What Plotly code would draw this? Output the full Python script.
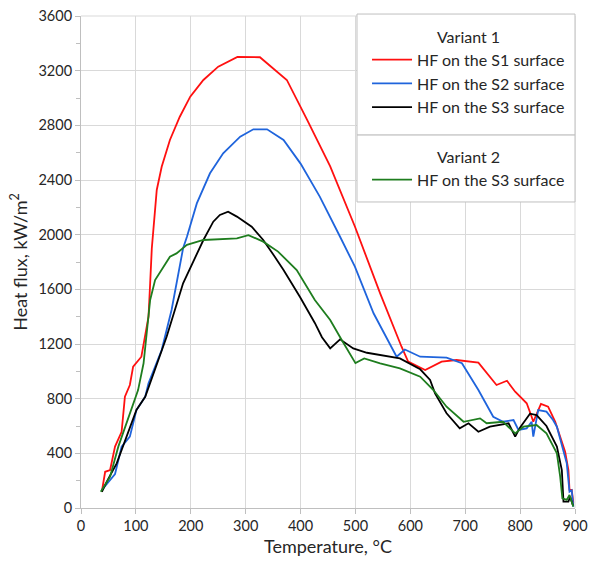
import plotly.graph_objects as go

# Variant 1 - S1 surface (red)
t_s1 = [38, 41, 44, 53, 62, 74, 80, 89, 95, 110, 117, 123, 126, 129, 138, 147, 162, 180, 199, 223,
        250, 285, 326, 375, 412, 454, 499, 545, 584, 596, 627, 657, 684, 724, 757, 776, 791, 812,
        821, 824, 838, 851, 864, 882, 888, 890, 894, 897]
hf_s1 = [120, 180, 265, 278, 449, 558, 814, 900, 1034, 1107, 1253, 1400, 1645, 1900, 2327, 2497, 2693, 2863, 3010, 3132,
         3229, 3300, 3298, 3132, 2840, 2500, 2060, 1570, 1180, 1071, 1010, 1071, 1083, 1063, 900, 931, 851, 766,
         668, 631, 761, 741, 631, 412, 278, 132, 132, 37]

# Variant 1 - S2 surface (blue)
t_s2 = [38, 53, 62, 74, 89, 101, 117, 123, 147, 165, 186, 193, 211, 235, 259, 290, 314, 339, 369, 400,
        435, 472, 499, 533, 575, 590, 618, 666, 694, 724, 751, 769, 788, 797, 812, 821, 824, 833, 848,
        860, 867, 885, 890, 894, 897]
hf_s2 = [132, 205, 249, 449, 522, 717, 814, 912, 1156, 1449, 1900, 1985, 2229, 2449, 2595, 2717, 2771, 2771, 2693, 2520,
         2278, 1985, 1766, 1425, 1107, 1160, 1107, 1100, 1059, 863, 668, 631, 644, 571, 583, 631, 522, 717, 705,
         644, 595, 327, 119, 130, 10]

# Variant 1 - S3 surface (black)
t_s3 = [38, 47, 65, 89, 101, 117, 138, 156, 186, 214, 223, 241, 253, 268, 284, 311, 332, 353, 369, 399,
        426, 439, 454, 472, 496, 521, 581, 618, 636, 645, 666, 690, 706, 724, 745, 779, 791, 800, 818,
        830, 848, 867, 876, 879, 888, 891, 896]
hf_s3 = [119, 193, 327, 595, 717, 814, 1059, 1253, 1644, 1888, 1961, 2095, 2144, 2168, 2132, 2058, 1961, 1839, 1741, 1544,
         1354, 1250, 1168, 1234, 1168, 1136, 1095, 1015, 937, 839, 693, 583, 620, 558, 595, 620, 522, 590, 690,
         680, 600, 449, 278, 46, 46, 83, 22]

# Variant 2 - S3 surface (green)
t_v2 = [36, 44, 53, 68, 83, 95, 104, 114, 120, 126, 135, 150, 162, 174, 193, 223, 259, 284, 305, 332,
        359, 393, 426, 454, 475, 500, 516, 545, 581, 618, 642, 666, 697, 727, 739, 769, 791, 806, 830,
        848, 867, 873, 877, 885, 890, 897]
hf_v2 = [119, 168, 229, 449, 620, 766, 863, 1059, 1278, 1522, 1668, 1766, 1839, 1863, 1925, 1961, 1966, 1973, 1997, 1949,
         1876, 1741, 1522, 1376, 1229, 1060, 1095, 1059, 1022, 961, 863, 741, 631, 656, 620, 631, 546, 595, 607,
         546, 400, 229, 71, 59, 95, 10]

FONT = "Lato, 'Open Sans', sans-serif"
TXT = "#262626"

fig = go.Figure()
series = [
    (t_s1, hf_s1, "HF on the S1 surface", "#FF1010", "legend"),
    (t_s2, hf_s2, "HF on the S2 surface", "#1F64DC", "legend"),
    (t_s3, hf_s3, "HF on the S3 surface", "#000000", "legend"),
    (t_v2, hf_v2, "HF on the S3 surface", "#1E7D1E", "legend2"),
]
for x, y, name, color, lg in series:
    fig.add_trace(go.Scatter(x=x, y=y, mode="lines", name=name, legend=lg,
                             line=dict(color=color, width=1.8)))

LEGFONT = dict(family=FONT, size=16, color=TXT)
legend_common = dict(
    xanchor="left", yanchor="top",
    bgcolor="rgba(0,0,0,0)", borderwidth=0,
    font=LEGFONT, itemwidth=40, tracegroupgap=0,
    entrywidth=165, entrywidthmode="pixels",
)

fig.update_layout(
    width=598, height=572,
    margin=dict(l=81, r=23, t=16, b=64, autoexpand=False),
    paper_bgcolor="white", plot_bgcolor="white",
    font=dict(family=FONT, size=14, color=TXT),
    legend=dict(x=0.579, y=0.988, title=dict(text="Variant 1", side="top center", font=LEGFONT),
                **legend_common),
    legend2=dict(x=0.579, y=0.744, title=dict(text="Variant 2", side="top center", font=LEGFONT),
                 **legend_common),
    xaxis=dict(range=[0, 900], dtick=100, tick0=0, showgrid=True, gridcolor="#D9D9D9",
               showline=True, linecolor="#BFBFBF", ticks="outside", ticklen=5, tickcolor="#BFBFBF",
               zeroline=False, tickfont=dict(size=14.5), automargin=False,
               title=dict(text="Temperature, °C", font=dict(size=18), standoff=6)),
    yaxis=dict(range=[0, 3600], dtick=400, tick0=0, showgrid=True, gridcolor="#D9D9D9",
               showline=True, linecolor="#BFBFBF", ticks="outside", ticklen=5, tickcolor="#BFBFBF",
               zeroline=False, tickfont=dict(size=14.5), automargin=False,
               minor=dict(dtick=200, ticks="outside", ticklen=4, tickcolor="#BFBFBF", showgrid=False),
               title=dict(text="Heat flux, kW/m<sup>2</sup>", font=dict(size=18), standoff=6)),
)
# frame lines on top / right edges of the plot
fig.add_shape(type="line", xref="paper", yref="paper", x0=0, x1=1, y0=1, y1=1,
              line=dict(color="#D9D9D9", width=1))
fig.add_shape(type="line", xref="paper", yref="paper", x0=1, x1=1, y0=0, y1=1,
              line=dict(color="#D9D9D9", width=1))
# legend boxes (Variant 1 / Variant 2)
fig.add_shape(type="rect", xref="paper", yref="paper", x0=0.5587, x1=1.0, y0=0.758, y1=1.004,
              fillcolor="white", line=dict(color="#BFBFBF", width=1), layer="above")
fig.add_shape(type="rect", xref="paper", yref="paper", x0=0.5587, x1=1.0, y0=0.622, y1=0.758,
              fillcolor="white", line=dict(color="#BFBFBF", width=1), layer="above")

fig.write_html("out.html")
